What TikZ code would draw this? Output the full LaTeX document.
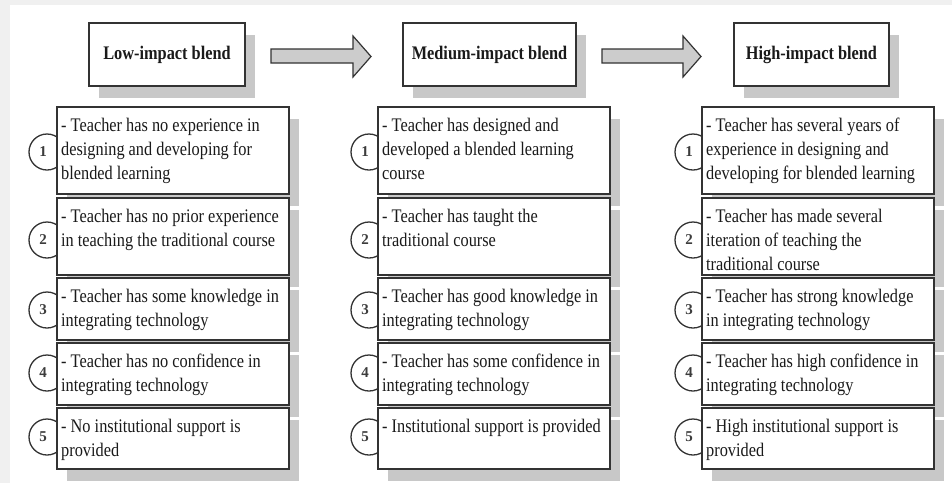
\documentclass[tikz,border=0pt]{standalone}
\usepackage{fontspec}
\setmainfont{Liberation Serif}[FakeStretch=0.85]
\newfontfamily\numfont{Liberation Serif}
\usetikzlibrary{shadows}
\definecolor{bggray}{HTML}{F0F0F0}
\definecolor{shadowgray}{HTML}{C8C8C8}
\definecolor{linegray}{HTML}{333333}
\definecolor{txt}{HTML}{1A1A1A}
\definecolor{arrowfill}{HTML}{CCCCCC}
\begin{document}
\begin{tikzpicture}[x=1pt,y=-1pt,
 boxshadow/.style={general shadow={fill=shadowgray, shadow xshift=10pt, shadow yshift=-12pt}},
 header/.style={draw=linegray, line width=1.3pt, fill=white, boxshadow, minimum height=63pt, inner sep=0pt, font=\fontsize{19.2}{24}\selectfont\bfseries, text=txt},
 rowbox/.style={draw=linegray, line width=1.5pt, fill=white, boxshadow, minimum width=232pt, anchor=north west, inner sep=0pt},
 rowtext/.style={anchor=north west, inner xsep=5pt, inner ysep=0pt, align=left, font=\fontsize{19.2}{24}\selectfont, text=txt},
 numcirc/.style={circle, draw=linegray, line width=1.3pt, fill=white, minimum size=36pt, inner sep=0pt},
 numtext/.style={font=\numfont\fontsize{15}{15}\selectfont\bfseries, text=txt!85!white, inner sep=0pt, xshift=-4pt},
 blockarrow/.style={draw=linegray, line width=1.2pt, fill=arrowfill, line join=miter}
]
\useasboundingbox (0,0) rectangle (952,483);
\fill[bggray] (0,0) rectangle (952,483);
\fill[white] (10,5) rectangle (952,483);

% headers
\node[header, minimum width=156pt] (hlow) at (167,54.5) {Low-impact blend};
\node[header, minimum width=173pt] (hmed) at (489.5,54.5) {Medium-impact blend};
\node[header, minimum width=155pt] (hhigh) at (811.5,54.5) {High-impact blend};

% block arrows
\draw[blockarrow] (271,49) -- (353,49) -- (353,36) -- (371,56.5) -- (353,77) -- (353,63) -- (271,63) -- cycle;
\draw[blockarrow] (602,49) -- (683,49) -- (683,36) -- (701,56.5) -- (683,77) -- (683,63) -- (602,63) -- cycle;

% ===== Low column =====
\node[numcirc, label={[numtext]center:1}] (lc1) at (47,152) {};
\node[numcirc, label={[numtext]center:2}] (lc2) at (47,240) {};
\node[numcirc, label={[numtext]center:3}] (lc3) at (47,310) {};
\node[numcirc, label={[numtext]center:4}] (lc4) at (47,373) {};
\node[numcirc, label={[numtext]center:5}] (lc5) at (47,437) {};
\node[rowbox, minimum height=87pt] (lb1) at (56,106) {};
\node[rowtext] (lt1) at (lb1.north west) {\rule{0pt}{25pt}- Teacher has no experience in\\designing and developing for\\blended learning};
\node[rowbox, minimum height=77pt] (lb2) at (56,197) {};
\node[rowtext] (lt2) at (lb2.north west) {\rule{0pt}{25pt}- Teacher has no prior experience\\in teaching the traditional course};
\node[rowbox, minimum height=62pt] (lb3) at (56,277) {};
\node[rowtext] (lt3) at (lb3.north west) {\rule{0pt}{25pt}- Teacher has some knowledge in\\integrating technology};
\node[rowbox, minimum height=62pt] (lb4) at (56,342) {};
\node[rowtext] (lt4) at (lb4.north west) {\rule{0pt}{25pt}- Teacher has no confidence in\\integrating technology};
\node[rowbox, minimum height=61pt] (lb5) at (56,407) {};
\node[rowtext] (lt5) at (lb5.north west) {\rule{0pt}{25pt}- No institutional support is\\provided};

% ===== Medium column =====
\node[numcirc, label={[numtext]center:1}] (mc1) at (369,152) {};
\node[numcirc, label={[numtext]center:2}] (mc2) at (369,240) {};
\node[numcirc, label={[numtext]center:3}] (mc3) at (369,310) {};
\node[numcirc, label={[numtext]center:4}] (mc4) at (369,373) {};
\node[numcirc, label={[numtext]center:5}] (mc5) at (369,437) {};
\node[rowbox, minimum height=87pt] (mb1) at (377,106) {};
\node[rowtext] (mt1) at (mb1.north west) {\rule{0pt}{25pt}- Teacher has designed and\\developed a blended learning\\course};
\node[rowbox, minimum height=77pt] (mb2) at (377,197) {};
\node[rowtext] (mt2) at (mb2.north west) {\rule{0pt}{25pt}- Teacher has taught the\\traditional course};
\node[rowbox, minimum height=62pt] (mb3) at (377,277) {};
\node[rowtext] (mt3) at (mb3.north west) {\rule{0pt}{25pt}- Teacher has good knowledge in\\integrating technology};
\node[rowbox, minimum height=62pt] (mb4) at (377,342) {};
\node[rowtext] (mt4) at (mb4.north west) {\rule{0pt}{25pt}- Teacher has some confidence in\\integrating technology};
\node[rowbox, minimum height=61pt] (mb5) at (377,407) {};
\node[rowtext] (mt5) at (mb5.north west) {\rule{0pt}{25pt}- Institutional support is provided};

% ===== High column =====
\node[numcirc, label={[numtext]center:1}] (hc1) at (693,152) {};
\node[numcirc, label={[numtext]center:2}] (hc2) at (693,240) {};
\node[numcirc, label={[numtext]center:3}] (hc3) at (693,310) {};
\node[numcirc, label={[numtext]center:4}] (hc4) at (693,373) {};
\node[numcirc, label={[numtext]center:5}] (hc5) at (693,437) {};
\node[rowbox, minimum height=87pt] (xb1) at (701,106) {};
\node[rowtext] (xt1) at (xb1.north west) {\rule{0pt}{25pt}- Teacher has several years of\\experience in designing and\\developing for blended learning};
\node[rowbox, minimum height=77pt] (xb2) at (701,197) {};
\node[rowtext] (xt2) at (xb2.north west) {\rule{0pt}{25pt}- Teacher has made several\\iteration of teaching the\\traditional course};
\node[rowbox, minimum height=62pt] (xb3) at (701,277) {};
\node[rowtext] (xt3) at (xb3.north west) {\rule{0pt}{25pt}- Teacher has strong knowledge\\in integrating technology};
\node[rowbox, minimum height=62pt] (xb4) at (701,342) {};
\node[rowtext] (xt4) at (xb4.north west) {\rule{0pt}{25pt}- Teacher has high confidence in\\integrating technology};
\node[rowbox, minimum height=61pt] (xb5) at (701,407) {};
\node[rowtext] (xt5) at (xb5.north west) {\rule{0pt}{25pt}- High institutional support is\\provided};
\end{tikzpicture}
\end{document}
